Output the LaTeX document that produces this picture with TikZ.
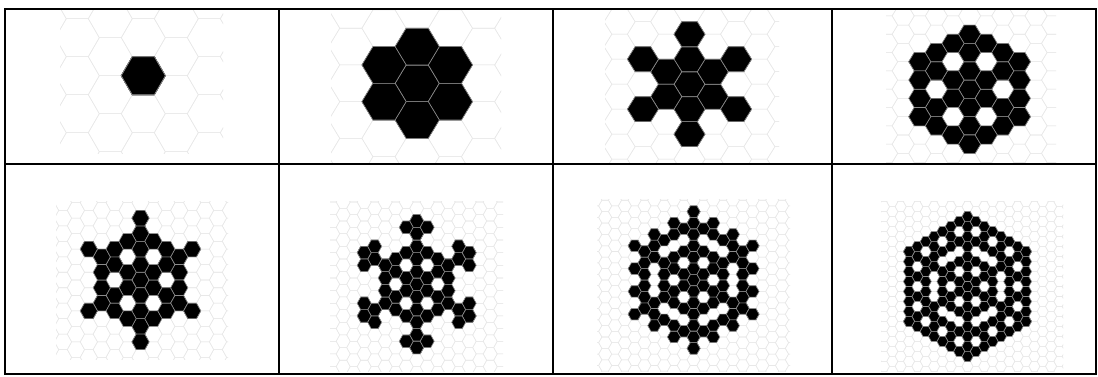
\documentclass[tikz,border=0pt]{standalone}
\usepackage{tikz}

% a hexagon of circumradius 1 (flat top) centred at (#2,#3)
\newcommand{\hexat}[3]{%
  \path[#1] ({#2},{#3}) +(0:1) -- +(60:1) -- +(120:1) -- +(180:1)
    -- +(240:1) -- +(300:1) -- cycle;}
% light lattice, columns -#1..#1, rows -#2..#2
\newcommand{\hexlattice}[2]{%
  \foreach \q in {-#1,...,#1}{
    \foreach \r in {-#2,...,#2}{
      \hexat{hexmesh}{1.5*\q}{1.732*(\r+0.5*mod(\q,2))}
    }
  }}
% black cells, given as a/b in one twelfth, then turned and mirrored
\newcommand{\flake}[1]{%
  \foreach \a/\b in {#1}{
    \foreach \k in {0,...,5}{
      \begin{scope}[rotate=\k*60]
        \hexat{flakecell}{1.5*\a}{0.866*\a+1.732*\b}
        \hexat{flakecell}{1.5*\b}{0.866*\b+1.732*\a}
      \end{scope}
    }
  }}

\begin{document}
\begin{tikzpicture}[
  x=1pt, y=-1pt,
  tablerule/.style={line width=2pt},
  hexmesh/.style={draw=black!9, line width=0.55pt},
  flakecell/.style={fill=black, draw=black!45, line width=0.6pt},
]
  \useasboundingbox (0,0) rectangle (1098,376);
  % ---------------- paso 0 ----------------
  \begin{scope}
    \clip (60,10) rectangle (223,153);
    \begin{scope}[shift={(143.3,75.7)}, xscale=22, yscale=21.94]
      \hexlattice{4}{3}
      \flake{0/0}
    \end{scope}
  \end{scope}
  % ---------------- paso 1 ----------------
  \begin{scope}
    \clip (331,10) rectangle (501,162);
    \begin{scope}[shift={(417.2,83.3)}, xscale=22.13, yscale=21.19]
      \hexlattice{4}{3}
      \flake{0/0,1/0}
    \end{scope}
  \end{scope}
  % ---------------- paso 2 ----------------
  \begin{scope}
    \clip (605,10) rectangle (779,163);
    \begin{scope}[shift={(689.5,84.2)}, xscale=15.53, yscale=14.43]
      \hexlattice{5}{4}
      \flake{0/0,1/0,2/0}
    \end{scope}
  \end{scope}
  % ---------------- paso 3 ----------------
  \begin{scope}
    \clip (886,10) rectangle (1056,163);
    \begin{scope}[shift={(969.6,89.2)}, xscale=11.07, yscale=10.58]
      \hexlattice{7}{6}
      \flake{0/0,1/0,2/0,3/0,2/1}
    \end{scope}
  \end{scope}
  % ---------------- paso 4 ----------------
  \begin{scope}
    \clip (56,201) rectangle (228,359);
    \begin{scope}[shift={(140.5,280)}, xscale=8.61, yscale=8.93]
      \hexlattice{8}{7}
      \flake{0/0,1/0,2/0,3/0,2/1,4/0}
    \end{scope}
  \end{scope}
  % ---------------- paso 5 ----------------
  \begin{scope}
    \clip (330,201) rectangle (503,371);
    \begin{scope}[shift={(416.7,284.3)}, xscale=7.0, yscale=7.31]
      \hexlattice{10}{8}
      \flake{0/0,1/0,2/0,3/0,2/1,4/0,5/0,4/1}
    \end{scope}
  \end{scope}
  % ---------------- paso 6 ----------------
  \begin{scope}
    \clip (597,199) rectangle (790,371);
    \begin{scope}[shift={(693.6,280)}, xscale=6.55, yscale=6.58]
      \hexlattice{11}{9}
      \flake{0/0,1/0,2/0,3/0,2/1,4/0,5/0,4/1,3/2,6/0,4/2}
    \end{scope}
  \end{scope}
  % ---------------- paso 7 ----------------
  \begin{scope}
    \clip (881,201) rectangle (1063,371);
    \begin{scope}[shift={(967.5,286.5)}, xscale=5.57, yscale=5.76]
      \hexlattice{12}{10}
      \flake{0/0,1/0,2/0,3/0,2/1,4/0,5/0,4/1,3/2,6/0,4/2,7/0,6/1,5/2,4/3}
    \end{scope}
  \end{scope}
  % ---------------- tabla ----------------
  \draw[tablerule] (5,9) rectangle (1096,374);
  \draw[tablerule] (5,164) -- (1096,164);
  \foreach \x in {279,553,832}
    \draw[tablerule] (\x,9) -- (\x,374);
\end{tikzpicture}
\end{document}
